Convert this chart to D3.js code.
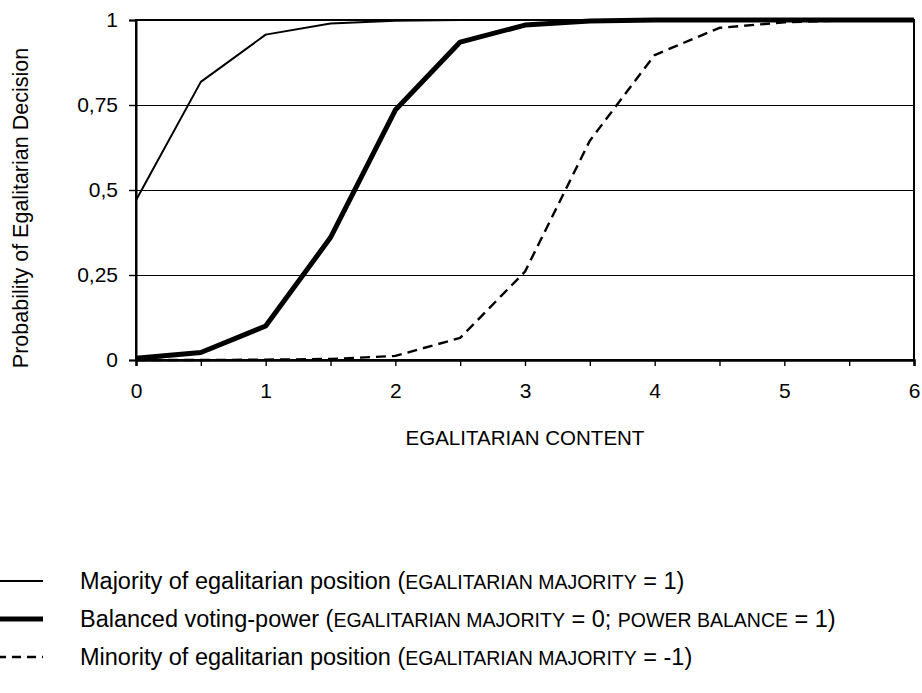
<!DOCTYPE html>
<html>
<head>
<meta charset="utf-8">
<script src="https://cdn.jsdelivr.net/npm/d3@7"></script>
<style>
  body { margin: 0; background: #fff; }
  text { font-family: "Liberation Sans", Arial, sans-serif; fill: #000; }
</style>
</head>
<body>
<svg width="922" height="693"></svg>
<script>
// data
const content = [0, 0.5, 1, 1.5, 2, 2.5, 3, 3.5, 4, 4.5, 5, 5.5, 6];
const majority = [0.47, 0.818, 0.957, 0.99, 0.998, 1, 1, 1, 1, 1, 1, 1, 1];
const balanced = [0.005, 0.022, 0.1, 0.36, 0.735, 0.935, 0.985, 0.997, 1, 1, 1, 1, 1];
const minority = [0, 0, 0.001, 0.003, 0.012, 0.065, 0.26, 0.645, 0.897, 0.977, 0.993, 0.999, 1];
const yTicks = [0, 0.25, 0.5, 0.75, 1];
const xMinor = d3.range(0, 6.01, 0.5);

const series = [
    { name: "Majority of egalitarian position", values: majority, width: 2, dash: null,
      note: [["(", 1], ["EGALITARIAN MAJORITY", 0], [" = 1)", 1]] },
    { name: "Balanced voting-power", values: balanced, width: 5, dash: null,
      note: [["(", 1], ["EGALITARIAN MAJORITY", 0], [" = 0; ", 1], ["POWER BALANCE", 0], [" = 1)", 1]] },
    { name: "Minority of egalitarian position", values: minority, width: 2.4, dash: "10,6",
      note: [["(", 1], ["EGALITARIAN MAJORITY", 0], [" = -1)", 1]] }
];

const svg = d3.select("svg");
const margin = { left: 136, top: 20, right: 8, bottom: 333 };
const width = 922 - margin.left - margin.right,
    height = 693 - margin.top - margin.bottom;

const x = d3.scaleLinear().domain([0, 6]).range([margin.left, margin.left + width]);
const y = d3.scaleLinear().domain([0, 1]).range([margin.top + height, margin.top]);

// gridlines
svg.append("g")
    .attr("shape-rendering", "crispEdges")
    .selectAll("line")
    .data(yTicks.slice(1))
    .join("line")
    .attr("x1", x(0)).attr("x2", x(6))
    .attr("y1", d => y(d)).attr("y2", d => y(d))
    .attr("stroke", "#000")
    .attr("stroke-width", 1);

// frame
svg.append("rect")
    .attr("x", x(0)).attr("y", y(1))
    .attr("width", x(6) - x(0)).attr("height", y(0) - y(1))
    .attr("fill", "none")
    .attr("stroke", "#000")
    .attr("stroke-width", 2);

// axes
const xAxis = svg.append("g")
    .attr("transform", `translate(0,${y(0)})`)
    .call(d3.axisBottom(x).tickValues(xMinor).tickSize(6).tickPadding(17)
        .tickFormat(d => Number.isInteger(d) ? d : ""));
xAxis.select(".domain").attr("stroke-width", 2.5);
xAxis.selectAll("text").attr("font-size", 21);

const yAxis = svg.append("g")
    .attr("transform", `translate(${x(0)},0)`)
    .call(d3.axisLeft(y).tickValues(yTicks).tickSize(7).tickPadding(11)
        .tickFormat(d => String(d).replace(".", ",")));
yAxis.select(".domain").attr("stroke-width", 2);
yAxis.selectAll("text").attr("font-size", 21);
svg.selectAll(".tick line").attr("stroke-width", 1.4);

// curves
const line = d3.line()
    .x((d, i) => x(content[i]))
    .y(d => y(d));

svg.append("g")
    .selectAll("path")
    .data(series)
    .join("path")
    .attr("d", d => line(d.values))
    .attr("fill", "none")
    .attr("stroke", "#000")
    .attr("stroke-width", d => d.width)
    .attr("stroke-dasharray", d => d.dash)
    .attr("stroke-linejoin", "round");

// axis titles
svg.append("text")
    .attr("x", x(3))
    .attr("y", 445)
    .attr("text-anchor", "middle")
    .attr("font-size", 20.5)
    .text("EGALITARIAN CONTENT");

svg.append("text")
    .attr("transform", `translate(28,208) rotate(-90)`)
    .attr("text-anchor", "middle")
    .attr("font-size", 21.5)
    .text("Probability of Egalitarian Decision");

// legend
const legend = svg.append("g")
    .selectAll("g")
    .data(series)
    .join("g")
    .attr("transform", (d, i) => `translate(0,${581 + i * 38})`);

legend.append("line")
    .attr("x1", 0).attr("x2", 43)
    .attr("stroke", "#000")
    .attr("stroke-width", d => d.width)
    .attr("stroke-dasharray", d => d.dash ? "9,6" : null)
    .attr("stroke-dashoffset", 3);

const label = legend.append("text")
    .attr("x", 80)
    .attr("dy", "0.36em")
    .attr("font-size", 23.5);

label.append("tspan").text(d => d.name + " ");
label.each(function (d) {
    d3.select(this).selectAll("tspan.n")
        .data(d.note)
        .join("tspan")
        .attr("class", "n")
        .attr("font-size", p => p[1] ? 23.5 : 19.5)
        .text(p => p[0]);
});
</script>
</body>
</html>
